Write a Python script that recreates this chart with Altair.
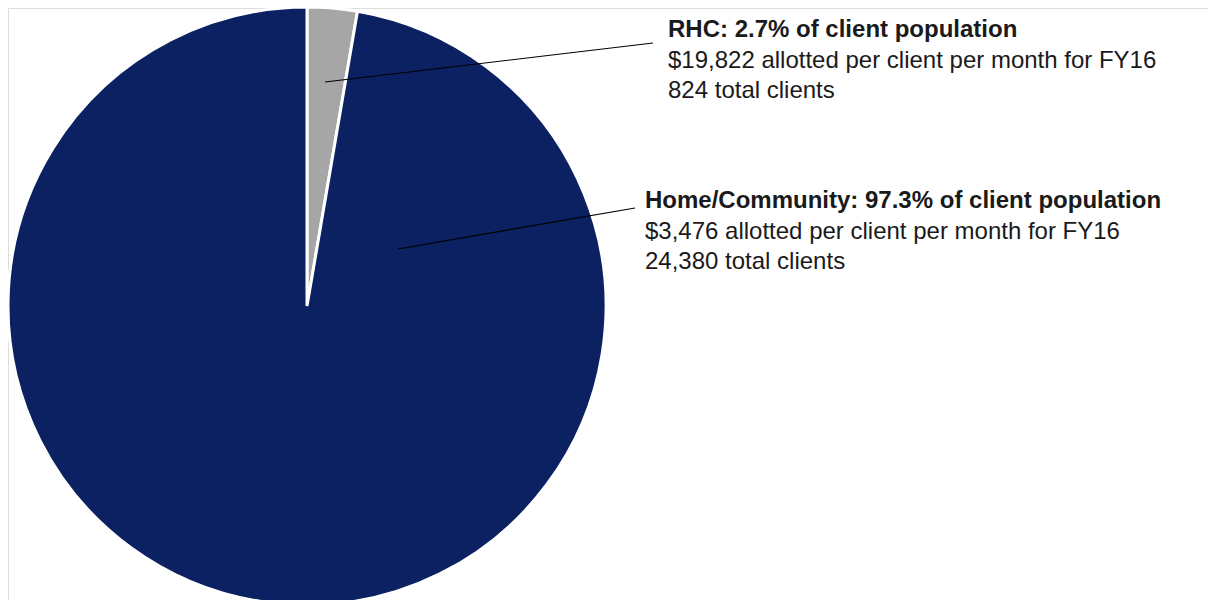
import altair as alt
import pandas as pd

categories = ["RHC", "Home/Community"]
shares = [2.7, 97.3]
allotted = ["$19,822", "$3,476"]
clients = ["824", "24,380"]
colors = ["#A6A6A6", "#0B2161"]

pie_df = pd.DataFrame({"category": categories, "share": shares, "idx": [0, 1]})

W, H = 1200, 592
cx, cy, r = 299, 298, 299

pie = alt.Chart(pie_df).mark_arc(stroke="white", strokeWidth=3, radius=r).encode(
    theta=alt.Theta("share:Q", stack=True),
    order=alt.Order("idx:Q"),
    color=alt.Color("category:N", scale=alt.Scale(domain=categories, range=colors), legend=None),
    x=alt.value(cx),
    y=alt.value(cy),
)

line_df = pd.DataFrame({"k": [0]})
leaders = [
    (317, 74, 645, 35),
    (390, 241, 627, 200),
]
layers = [pie]
for (x1, y1, x2, y2) in leaders:
    layers.append(
        alt.Chart(line_df).mark_rule(color="black", strokeWidth=1.2).encode(
            x=alt.value(x1), y=alt.value(y1), x2=alt.value(x2), y2=alt.value(y2)
        )
    )

text_pos = [(660, 29), (637, 200)]
font = "Liberation Sans"
fs = 24
lh = 30.5
for i, cat in enumerate(categories):
    tx, ty = text_pos[i]
    title_df = pd.DataFrame({"t": [f"{cat}: {shares[i]}% of client population"]})
    body_df = pd.DataFrame({"t": [[f"{allotted[i]} allotted per client per month for FY16",
                                   f"{clients[i]} total clients"]]})
    layers.append(
        alt.Chart(title_df).mark_text(
            align="left", baseline="alphabetic", font=font, fontSize=fs,
            fontWeight="bold", color="#1a1a1a"
        ).encode(text="t:N", x=alt.value(tx), y=alt.value(ty))
    )
    layers.append(
        alt.Chart(body_df).mark_text(
            align="left", baseline="alphabetic", font=font, fontSize=fs,
            lineHeight=lh, color="#1a1a1a"
        ).encode(text="t", x=alt.value(tx), y=alt.value(ty + lh))
    )

chart = alt.layer(*layers).properties(
    width=W, height=H, autosize=alt.AutoSizeParams(type="none"), padding=0
).configure_view(strokeWidth=0, stroke="transparent").configure(background="transparent")

chart.save("out.html", embed_options={"renderer": "svg", "actions": False})
